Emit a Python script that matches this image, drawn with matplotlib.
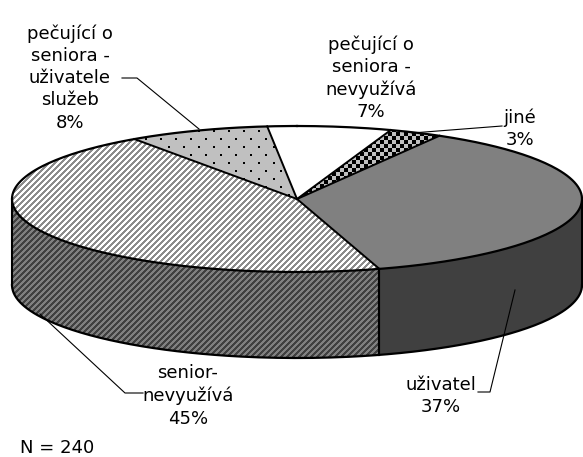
import numpy as np
import matplotlib.pyplot as plt
from matplotlib.patches import Polygon

# data of the pie (clockwise, first slice starts at start_angle)
labels = [
    "uživatel\n37%",
    "senior-\nnevyužívá\n45%",
    "pečující o\nseniora -\nuživatele\nslužeb\n8%",
    "pečující o\nseniora -\nnevyužívá\n7%",
    "jiné\n3%",
]
shares = [37, 45, 8, 7, 3]
n_text = "N = 240"
start_angle = 30.0

# geometry of the 3d pie in pixels
W, H = 583, 457
CX, CY = 297.0, 199.0
RX, RY = 285.0, 73.0
DEPTH = 86.0

# label centres and leader line paths (pixels)
label_pos = [(441, 396), (188, 396), (70, 78), (371, 78), (520, 129)]
leaders = [
    [(478, 392), (490, 392), (515, 290)],
    [(40, 314), (125, 393), (143, 393)],
    [(122, 78), (137, 78), (199, 129)],
    None,
    [(412, 133), (502, 126)],
]

# textures
ii, jj = np.mgrid[0:H, 0:W]


def rgb(hexcol):
    h = hexcol.lstrip("#")
    return np.array([int(h[k:k + 2], 16) / 255 for k in (0, 2, 4)])


def solid(c):
    img = np.ones((H, W, 3))
    img[:] = rgb(c)
    return img


def stripes(fg, bg):
    img = solid(bg)
    mask = ((ii + jj) // 3) % 2 == 0
    img[mask] = rgb(fg)
    return img


def dots(fg, bg):
    img = solid(bg)
    for r in range(2, H, 8):
        off = 3 if (r // 8) % 2 == 0 else 10
        for c in range(off, W, 15):
            img[r:r + 2, c:c + 2] = rgb(fg)
    return img


def checker(fg, bg):
    img = solid(bg)
    mask = ((ii // 4) + (jj // 4)) % 2 == 0
    img[mask] = rgb(fg)
    return img


top_tex = [
    solid("#808080"),
    stripes("#8C8C8C", "#FFFFFF"),
    dots("#000000", "#C0C0C0"),
    solid("#FFFFFF"),
    checker("#000000", "#C0C0C0"),
]
side_tex = [
    solid("#404040"),
    stripes("#404040", "#808080"),
    solid("#909090"),
    solid("#C0C0C0"),
    solid("#606060"),
]


def pt(t, dz=0.0):
    r = np.radians(t)
    return CX + RX * np.sin(r), CY - RY * np.cos(r) + dz


def arc(a, b, dz=0.0, n=200):
    t = np.linspace(a, b, n)
    x, y = pt(t, dz)
    return np.column_stack([x, y])


fig = plt.figure(figsize=(W / 100, H / 100), dpi=100)
fig.patch.set_facecolor("white")
ax = fig.add_axes([0, 0, 1, 1])
ax.set_axis_off()


def fill_texture(poly, tex, z):
    patch = Polygon(poly, closed=True, fill=False, lw=0, zorder=z)
    ax.add_patch(patch)
    im = ax.imshow(tex, extent=(0, W, H, 0), interpolation="nearest", zorder=z)
    im.set_clip_path(patch)


bounds = start_angle + np.concatenate([[0], np.cumsum(shares)]) * 3.6

# side walls (front half only)
for k in range(len(shares)):
    a, b = bounds[k], bounds[k + 1]
    for lo_v, hi_v in [(90, 270), (450, 630)]:
        lo, hi = max(a, lo_v), min(b, hi_v)
        if lo < hi:
            top = arc(lo, hi)
            bot = arc(hi, lo, DEPTH)
            fill_texture(np.vstack([top, bot]), side_tex[k], 1)
            for t in (lo, hi):
                x0, y0 = pt(t)
                ax.plot([x0, x0], [y0, y0 + DEPTH], color="black", lw=1.5, zorder=4)

# bottom outline of the wall
b_arc = arc(90, 270, DEPTH)
ax.plot(b_arc[:, 0], b_arc[:, 1], color="black", lw=1.6, zorder=4)

# top wedges
for k in range(len(shares)):
    a, b = bounds[k], bounds[k + 1]
    poly = np.vstack([[CX, CY], arc(a, b)])
    fill_texture(poly, top_tex[k], 2)
    x0, y0 = pt(a)
    ax.plot([CX, x0], [CY, y0], color="black", lw=1.4, zorder=5)

ring = arc(0, 360, n=400)
ax.plot(ring[:, 0], ring[:, 1], color="black", lw=1.6, zorder=5)

# labels and leader lines
for k, lab in enumerate(labels):
    x, y = label_pos[k]
    ax.text(x, y, lab, ha="center", va="center", fontsize=13,
            linespacing=1.3, multialignment="center", zorder=6)
    if leaders[k] is not None:
        xs, ys = zip(*leaders[k])
        ax.plot(xs, ys, color="black", lw=0.8, zorder=6)

ax.text(20, 448, n_text, ha="left", va="center", fontsize=13, zorder=6)

ax.set_xlim(0, W)
ax.set_ylim(H, 0)
ax.set_aspect("auto")

fig.savefig("out.png", dpi=100, facecolor="white")
